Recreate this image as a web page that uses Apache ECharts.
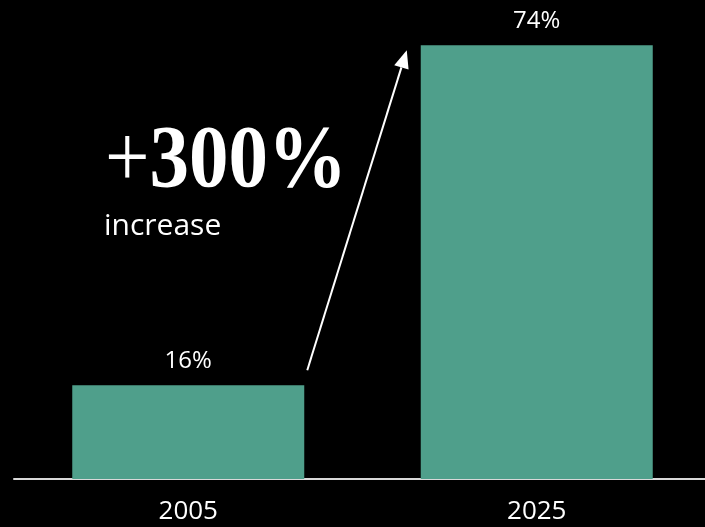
<!DOCTYPE html>
<html>
<head>
<meta charset="utf-8">
<script src="https://cdn.jsdelivr.net/npm/echarts@6/dist/echarts.min.js"></script>
<style>
  html, body { margin: 0; padding: 0; background: #000; overflow: hidden; }
  #chart { width: 711px; height: 527px; }
</style>
</head>
<body>
<div id="chart"></div>
<script>
// Share of respondents, two survey years
const years = ['2005', '2025'];
const shares = [16, 74];
const headlineSign = '+';
const headlineValue = '300%';
const subline = 'increase';

const chart = echarts.init(document.getElementById('chart'), null, { renderer: 'canvas' });

const option = {
  backgroundColor: '#000000',
  animation: false,
  grid: { left: 14, right: 0, top: 10, bottom: 48 },
  xAxis: {
    type: 'category',
    data: years,
    axisLine: { lineStyle: { color: '#d9d9d9', width: 2 } },
    axisTick: { show: false },
    axisLabel: {
      color: '#ffffff',
      fontFamily: 'Open Sans',
      fontSize: 26,
      margin: 20
    }
  },
  yAxis: {
    type: 'value',
    min: 0,
    max: 80,
    show: false,
    splitLine: { show: false }
  },
  series: [{
    type: 'bar',
    data: shares,
    barWidth: 232,
    itemStyle: { color: '#4f9f8b' },
    label: {
      show: true,
      position: 'top',
      distance: 12,
      formatter: '{c}%',
      color: '#ffffff',
      fontFamily: 'Open Sans',
      fontSize: 24
    }
  }]
};
chart.setOption(option);

// Growth arrow from the first bar up to the second, plus the headline text
const p0 = chart.convertToPixel({ seriesIndex: 0 }, [0, shares[0]]);
const p1 = chart.convertToPixel({ seriesIndex: 0 }, [1, shares[1]]);
const half = 116;
const x0 = p0[0] + half + 3, y0 = p0[1] - 15;
const tipX = p1[0] - half - 14, tipY = p1[1] + 5;
const ang = Math.atan2(tipY - y0, tipX - x0);
const headLen = 18, headW = 7.5;
const bx = tipX - headLen * Math.cos(ang), by = tipY - headLen * Math.sin(ang);
const nx = -Math.sin(ang), ny = Math.cos(ang);

chart.setOption({
  graphic: [
    {
      type: 'line',
      shape: { x1: x0, y1: y0, x2: bx, y2: by },
      style: { stroke: '#ffffff', lineWidth: 2 }
    },
    {
      type: 'polygon',
      shape: { points: [[tipX, tipY], [bx + nx * headW, by + ny * headW], [bx - nx * headW, by - ny * headW]] },
      style: { fill: '#ffffff' }
    },
    {
      type: 'text',
      x: 105,
      y: 163,
      scaleY: 1.12,
      style: {
        text: '{s|' + headlineSign + '}{v|' + headlineValue + '}',
        fill: '#ffffff',
        verticalAlign: 'middle',
        rich: {
          s: { fontFamily: 'Liberation Serif', fontSize: 79, fontWeight: 'normal', fill: '#ffffff' },
          v: { fontFamily: 'Liberation Serif', fontSize: 79, fontWeight: 'bold', fill: '#ffffff' }
        }
      }
    },
    {
      type: 'text',
      left: 104,
      top: 211,
      style: {
        text: subline,
        fill: '#ffffff',
        font: '30px "Open Sans"'
      }
    }
  ]
});
</script>
</body>
</html>
